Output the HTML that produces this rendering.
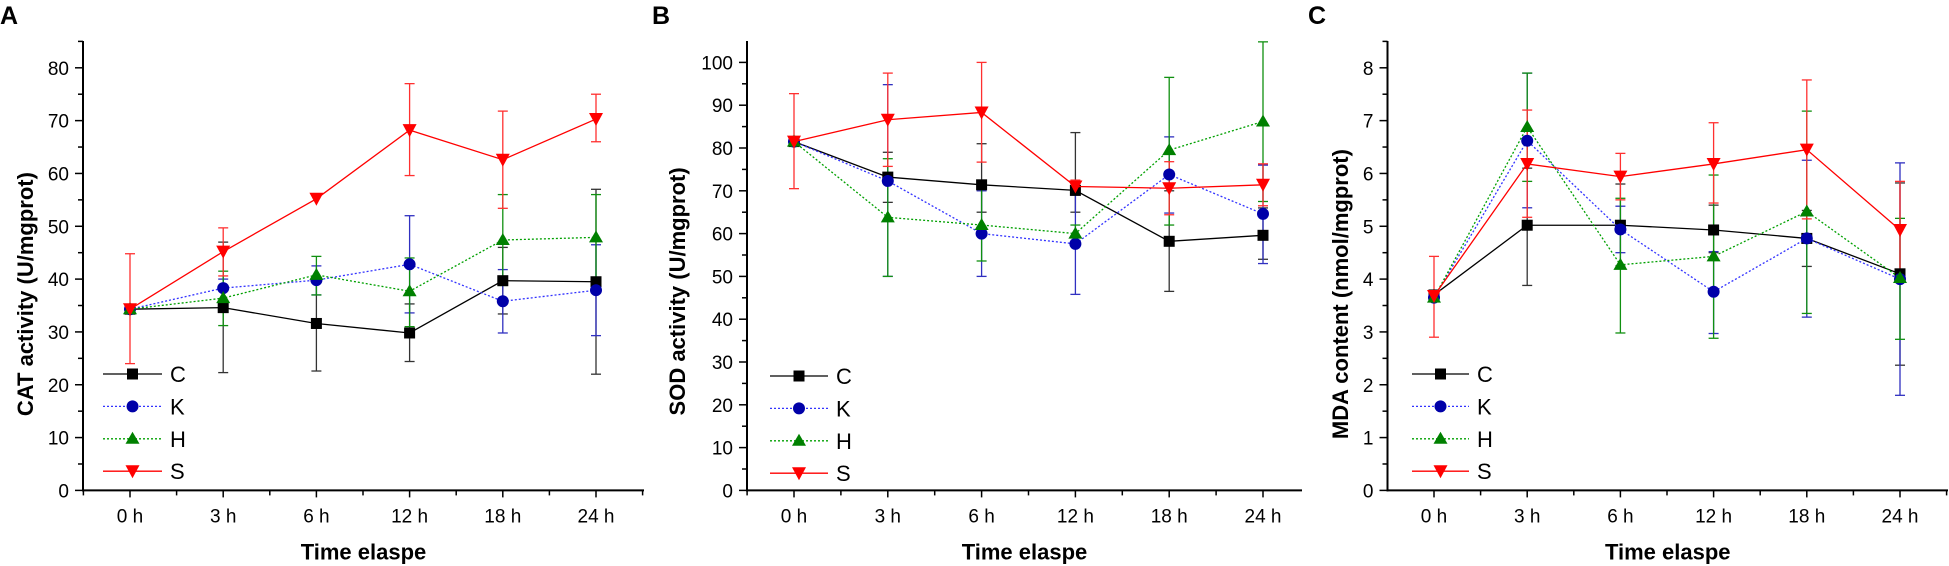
<!DOCTYPE html>
<html><head><meta charset="utf-8"><style>
html,body{margin:0;padding:0;background:#fff;}
svg{display:block;font-family:"Liberation Sans",Arial,sans-serif;}
</style></head><body>
<svg id="s" width="1949" height="566" viewBox="0 0 1949 566" xmlns="http://www.w3.org/2000/svg"></svg>
<script>
const S=document.getElementById('s');
let h='';
const col={C:{l:'#000',m:'#000',e:'#333',d:''},K:{l:'#3333ff',m:'#0000a8',e:'#3030c0',d:'2,2'},H:{l:'#00a000',m:'#008000',e:'#109010',d:'2,2'},S:{l:'#ff0000',m:'#ff0000',e:'#ff3030',d:''}};
function marker(k,x,y){const c=col[k].m;
 if(k=='C')return `<rect x="${x-5.5}" y="${y-5.5}" width="11" height="11" fill="${c}"/>`;
 if(k=='K')return `<circle cx="${x}" cy="${y}" r="6" fill="${c}"/>`;
 if(k=='H')return `<polygon points="${x},${y-7} ${x-7},${y+5} ${x+7},${y+5}" fill="${c}"/>`;
 return `<polygon points="${x-7},${y-6} ${x+7},${y-6} ${x},${y+7}" fill="${c}"/>`;}
function panel(p){
 const {ax,x0,dx,right,top,bot,ymax,step,nt,title,lab,labx,ttx,leg,data}=p;
 const Y=v=>bot-(bot-top)*v/ymax;
 const X=i=>x0+i*dx;
 h+=`<text x="${labx}" y="24" font-size="25" font-weight="bold">${lab}</text>`;
 h+=`<line x1="${ax}" y1="41" x2="${ax}" y2="${bot+1}" stroke="#000" stroke-width="2"/>`;
 h+=`<line x1="${ax-1}" y1="${bot}" x2="${right}" y2="${bot}" stroke="#000" stroke-width="2"/>`;
 for(let i=0;i<=nt;i++){const v=i*step,y=Y(v);
  h+=`<line x1="${ax-8}" y1="${y}" x2="${ax}" y2="${y}" stroke="#000" stroke-width="1.5"/>`;
  h+=`<text x="${ax-14}" y="${y+7}" font-size="19" text-anchor="end">${v}</text>`;
  const ym=Y(v+step/2); if(ym>41) h+=`<line x1="${ax-5}" y1="${ym}" x2="${ax}" y2="${ym}" stroke="#000" stroke-width="1.5"/>`;}
 const labs=['0 h','3 h','6 h','12 h','18 h','24 h'];
 for(let i=0;i<6;i++){h+=`<line x1="${X(i)}" y1="${bot}" x2="${X(i)}" y2="${bot+7}" stroke="#000" stroke-width="1.5"/>`;
  h+=`<text x="${X(i)}" y="${bot+32}" font-size="19" text-anchor="middle">${labs[i]}</text>`;}
 for(let i=-0.5;i<6.5;i+=1){const x=X(i); if(x>ax&&x<right) h+=`<line x1="${x}" y1="${bot}" x2="${x}" y2="${bot+5}" stroke="#000" stroke-width="1.5"/>`;}
 h+=`<text x="${(ax+right)/2}" y="${bot+69}" font-size="22" font-weight="bold" text-anchor="middle">Time elaspe</text>`;
 h+=`<text transform="translate(${ttx},${(top+bot)/2+15}) rotate(-90)" font-size="22" font-weight="bold" text-anchor="middle">${title}</text>`;
 for(const k of ['C','K','H','S']){const d=data[k];
  for(let i=0;i<6;i++){const e=d.e[i];if(!e)continue;const x=X(i);
   h+=`<g stroke="${col[k].e}" stroke-width="1.3"><line x1="${x}" y1="${Y(e[0])}" x2="${x}" y2="${Y(e[1])}"/><line x1="${x-5}" y1="${Y(e[0])}" x2="${x+5}" y2="${Y(e[0])}"/><line x1="${x-5}" y1="${Y(e[1])}" x2="${x+5}" y2="${Y(e[1])}"/></g>`;}
 }
 for(const k of ['C','K','H','S']){const d=data[k];
  h+=`<polyline fill="none" stroke="${col[k].l}" stroke-width="1.3" ${col[k].d?`stroke-dasharray="${col[k].d}"`:''} points="${d.v.map((v,i)=>X(i)+','+Y(v)).join(' ')}"/>`;
  d.v.forEach((v,i)=>h+=marker(k,X(i),Y(v)));}
 ['C','K','H','S'].forEach((k,j)=>{const y=leg.y+j*32.4;
  h+=`<line x1="${leg.x1}" y1="${y}" x2="${leg.x2}" y2="${y}" stroke="${col[k].l}" stroke-width="1.3" ${col[k].d?`stroke-dasharray="${col[k].d}"`:''}/>`;
  h+=marker(k,(leg.x1+leg.x2)/2,y);
  h+=`<text x="${leg.x2+8}" y="${y+8}" font-size="22">${k}</text>`;});
}
panel({ax:83,x0:130,dx:93.2,right:644,top:67.8,bot:490.4,ymax:80,step:10,nt:8,title:'CAT activity (U/mgprot)',lab:'A',labx:0,ttx:33,
 leg:{x1:103,x2:162,y:374},
 data:{C:{v:[34.3,34.6,31.6,29.8,39.7,39.5],e:[null,[22.3,47],[22.6,40],[24.4,35.3],[33.4,46],[22,57]]},
 K:{v:[34.3,38.3,39.8,42.8,35.8,37.9],e:[null,[35,40],[37,42.5],[33.6,52],[29.8,41.8],[29.3,46.5]]},
 H:{v:[34.3,36.4,40.8,37.7,47.4,47.9],e:[null,[31.2,41.5],[37,44.3],[31,44],[38.8,56],[39,56]]},
 S:{v:[34.3,45.2,55.2,68.2,62.6,70.3],e:[[24,44.8],[40.6,49.7],null,[59.6,77],[53.4,71.8],[66,75]]}}});
panel({ax:747,x0:794,dx:93.8,right:1302,top:62.4,bot:490.4,ymax:100,step:10,nt:10,title:'SOD activity (U/mgprot)',lab:'B',labx:652,ttx:685,
 leg:{x1:770,x2:828,y:376},
 data:{C:{v:[81.5,73.2,71.4,70.1,58.2,59.6],e:[null,[67.3,79],[65,81],[65,83.6],[46.5,70],[54,66]]},
 K:{v:[81.5,72.3,60,57.6,73.8,64.6],e:[null,[50,94.8],[50,70],[45.8,69],[64.8,82.6],[53,76]]},
 H:{v:[81.5,63.8,62,60,79.5,86.2],e:[null,[50,77.5],[53.6,71],[58,62],[62,96.5],[67.5,104.8]]},
 S:{v:[81.5,86.6,88.3,71,70.6,71.4],e:[[70.5,92.7],[75.7,97.5],[76.7,100],[69.6,72.5],[64.4,76.8],[66.5,76.3]]}}});
panel({ax:1387.5,x0:1434,dx:93.2,right:1948,top:67.8,bot:490.4,ymax:8,step:1,nt:8,title:'MDA content (nmol/mgprot)',lab:'C',labx:1308,ttx:1348,
 leg:{x1:1412,x2:1469,y:374},
 data:{C:{v:[3.7,5.02,5.02,4.93,4.77,4.1],e:[null,[3.88,6.1],[4.25,5.8],[4.5,5.4],[4.24,5.3],[2.37,5.82]]},
 K:{v:[3.65,6.62,4.94,3.76,4.77,4.0],e:[null,[5.35,7.9],[4.5,5.38],[2.97,4.52],[3.28,6.25],[1.8,6.2]]},
 H:{v:[3.65,6.88,4.27,4.43,5.28,4.02],e:[null,[5.85,7.9],[2.98,5.53],[2.88,5.97],[3.35,7.18],[2.86,5.15]]},
 S:{v:[3.68,6.18,5.94,6.18,6.45,4.93],e:[[2.9,4.43],[5.17,7.2],[5.5,6.38],[5.44,6.96],[5.14,7.77],[4.1,5.85]]}}});
S.innerHTML=h;
</script>
</body></html>
